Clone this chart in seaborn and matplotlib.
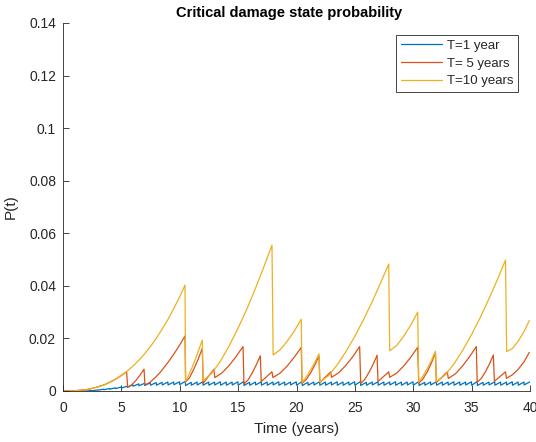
import numpy as np
import pandas as pd
import matplotlib
matplotlib.use("Agg")
import matplotlib.pyplot as plt
import seaborn as sns

# ---- data ----
yellow_t = [0, 1, 2, 2.5, 3, 3.5, 4, 4.5, 5, 5.5, 6, 6.5, 7, 7.5, 8, 8.5, 9, 9.5, 10, 10.2, 10.45,
            10.5, 10.85, 11.2, 11.55, 11.93,
            12.0, 12.74, 13.475, 14.21, 14.95, 15.69, 16.425, 17.16, 17.9,
            18.0, 18.6, 19.2, 19.81, 20.41,
            20.47, 20.84, 21.2, 21.56, 21.93,
            22.0, 22.74, 23.475, 24.21, 24.95, 25.69, 26.425, 27.16, 27.9,
            27.98, 28.6, 29.19, 29.79, 30.38,
            30.47, 30.83, 31.2, 31.55, 31.9,
            31.98, 32.74, 33.475, 34.21, 34.95, 35.69, 36.425, 37.16, 37.9,
            38.0, 38.5, 39.0, 39.5, 39.94]
yellow_p = [0, 0.0001, 0.0005, 0.0010, 0.0016, 0.0023, 0.0033, 0.0045, 0.0059, 0.0076, 0.0095,
            0.0117, 0.0142, 0.0170, 0.0201, 0.0236, 0.0273, 0.0315, 0.0359, 0.0378, 0.0403,
            0.0035, 0.0068, 0.0105, 0.0147, 0.0194,
            0.0039, 0.0067, 0.0113, 0.0170, 0.0235, 0.0306, 0.0384, 0.0467, 0.0555,
            0.0137, 0.0157, 0.0189, 0.0228, 0.0273,
            0.0032, 0.0054, 0.0080, 0.0108, 0.0141,
            0.0034, 0.0058, 0.0099, 0.0148, 0.0204, 0.0267, 0.0334, 0.0407, 0.0483,
            0.0153, 0.0174, 0.0209, 0.0251, 0.0300,
            0.0033, 0.0057, 0.0085, 0.0116, 0.0151,
            0.0036, 0.0061, 0.0102, 0.0153, 0.0211, 0.0275, 0.0345, 0.0419, 0.0498,
            0.0150, 0.0162, 0.0190, 0.0227, 0.0268]

red_t = [0, 1, 2, 2.5, 3, 3.5, 4, 4.5, 5, 5.45,
         5.54, 5.89, 6.24, 6.59, 6.94,
         7.02, 7.45, 7.88, 8.31, 8.735, 9.16, 9.59, 10.02, 10.45,
         10.5, 10.86, 11.2, 11.57, 11.93,
         12.0, 12.93,
         13.0, 13.6, 14.21, 14.81, 15.42,
         15.5, 15.85, 16.2, 16.55, 16.9,
         16.98, 17.9,
         17.98, 18.59, 19.2, 19.8, 20.41,
         20.47, 20.84, 21.2, 21.56, 21.93,
         22.0, 22.93,
         23.0, 23.6, 24.2, 24.81, 25.41,
         25.5, 25.85, 26.2, 26.55, 26.9,
         26.98, 27.9,
         27.98, 28.58, 29.18, 29.78, 30.38,
         30.47, 30.83, 31.2, 31.55, 31.9,
         31.98, 32.92,
         33.0, 33.6, 34.2, 34.8, 35.4,
         35.48, 35.83, 36.17, 36.52, 36.86,
         36.95, 37.9,
         37.98, 38.5, 39.0, 39.5, 39.94]
red_p = [0, 0.0001, 0.0005, 0.0010, 0.0016, 0.0023, 0.0033, 0.0045, 0.0059, 0.0073,
         0.0014, 0.0024, 0.0040, 0.0060, 0.0083,
         0.0023, 0.0033, 0.0050, 0.0070, 0.0094, 0.0119, 0.0147, 0.0177, 0.0209,
         0.0034, 0.0052, 0.0083, 0.0120, 0.0162,
         0.0029, 0.0083,
         0.0051, 0.0068, 0.0096, 0.0130, 0.0169,
         0.0027, 0.0042, 0.0068, 0.0099, 0.0134,
         0.0036, 0.0073,
         0.0051, 0.0068, 0.0095, 0.0128, 0.0166,
         0.0029, 0.0044, 0.0068, 0.0098, 0.0133,
         0.0032, 0.0073,
         0.0052, 0.0069, 0.0096, 0.0130, 0.0169,
         0.0029, 0.0044, 0.0070, 0.0100, 0.0136,
         0.0036, 0.0073,
         0.0052, 0.0068, 0.0095, 0.0128, 0.0166,
         0.0029, 0.0046, 0.0073, 0.0106, 0.0145,
         0.0032, 0.0073,
         0.0048, 0.0065, 0.0094, 0.0129, 0.0169,
         0.0033, 0.0048, 0.0072, 0.0102, 0.0137,
         0.0037, 0.0073,
         0.0048, 0.0062, 0.0083, 0.0112, 0.0147]

# blue sawtooth: tooth start times, low (start) and high (end) values
blue_start = [0.0, 2.0, 2.5, 3.0, 3.5, 4.0, 4.5, 5.0,
              5.5, 6.0, 6.5, 7.0, 7.5, 8.0, 8.5, 9.0, 9.5, 10.0,
              10.5, 11.0, 11.5, 12.0, 12.5, 13.0, 13.5, 14.0, 14.5, 15.0,
              15.5, 16.0, 16.5, 17.0, 17.5, 18.0, 18.5, 19.0, 19.5, 20.0,
              20.5, 21.0, 21.5, 22.0, 22.5, 23.0, 23.5, 24.0, 24.5, 25.0,
              25.5, 26.0, 26.5, 27.0, 27.5, 28.0, 28.5, 29.0, 29.5, 30.0,
              30.5, 31.0, 31.5, 32.0, 32.5, 33.0, 33.5, 34.0, 34.5, 35.0,
              35.5, 36.0, 36.5, 37.0, 37.5, 38.0, 38.5, 39.0, 39.5]
blue_low = [0.0, 0.0, 0.0001, 0.0003, 0.0005, 0.0007, 0.0009, 0.0011,
            0.0014, 0.0018, 0.0020, 0.0021, 0.0022, 0.0022, 0.0023, 0.0023, 0.0024, 0.0024,
            0.0021, 0.0022, 0.0023, 0.0022, 0.0022, 0.0023, 0.0022, 0.0022, 0.0023, 0.0022,
            0.0021, 0.0022, 0.0023, 0.0022, 0.0022, 0.0023, 0.0022, 0.0022, 0.0023, 0.0022,
            0.0021, 0.0022, 0.0023, 0.0022, 0.0022, 0.0023, 0.0022, 0.0022, 0.0023, 0.0022,
            0.0021, 0.0022, 0.0023, 0.0022, 0.0022, 0.0023, 0.0022, 0.0022, 0.0023, 0.0022,
            0.0021, 0.0022, 0.0023, 0.0022, 0.0022, 0.0023, 0.0022, 0.0022, 0.0023, 0.0022,
            0.0021, 0.0022, 0.0023, 0.0022, 0.0022, 0.0023, 0.0022, 0.0022, 0.0023]
blue_high = [0.0, 0.0002, 0.0004, 0.0007, 0.0009, 0.0012, 0.0015, 0.0018,
             0.0024, 0.0027, 0.0029, 0.0031, 0.0032, 0.0033, 0.0034, 0.0034, 0.0035, 0.0037,
             0.0033, 0.0034, 0.0035, 0.0034, 0.0034, 0.0035, 0.0034, 0.0034, 0.0035, 0.0036,
             0.0033, 0.0034, 0.0035, 0.0034, 0.0034, 0.0035, 0.0034, 0.0034, 0.0035, 0.0036,
             0.0033, 0.0034, 0.0035, 0.0034, 0.0034, 0.0035, 0.0034, 0.0034, 0.0035, 0.0036,
             0.0033, 0.0034, 0.0035, 0.0034, 0.0034, 0.0035, 0.0034, 0.0034, 0.0035, 0.0036,
             0.0033, 0.0034, 0.0035, 0.0034, 0.0034, 0.0035, 0.0034, 0.0034, 0.0035, 0.0036,
             0.0033, 0.0034, 0.0035, 0.0034, 0.0034, 0.0035, 0.0034, 0.0034, 0.0035]
blue_end = 40.0

labels = ["T=1 year", "T= 5 years", "T=10 years"]
colors = ["#0072BD", "#D95319", "#EDB120"]

# ---- build long-form table ----
bt, bp = [], []
for i, s in enumerate(blue_start):
    e = blue_start[i + 1] - 0.02 if i + 1 < len(blue_start) else blue_end
    bt += [s, e]
    bp += [blue_low[i], blue_high[i]]

rows = []
for name, ts, ps in [(labels[0], bt, bp), (labels[1], red_t, red_p), (labels[2], yellow_t, yellow_p)]:
    for k, (t, p) in enumerate(zip(ts, ps)):
        rows.append({"Time": t, "P": p, "Series": name})
df = pd.DataFrame(rows)

sns.set_style("ticks")
plt.rcParams["font.family"] = ["Liberation Sans", "DejaVu Sans"]

fig = plt.figure(figsize=(5.36, 4.42), dpi=100)
ax = fig.add_axes([63 / 536, 51 / 442, 467 / 536, 368 / 442])

sns.lineplot(data=df, x="Time", y="P", hue="Series", hue_order=labels,
             palette=colors, estimator=None, sort=False,
             linewidth=0.9, ax=ax)

ax.set_xlim(0, 40)
ax.set_ylim(0, 0.14)
ax.set_xticks([0, 5, 10, 15, 20, 25, 30, 35, 40])
ax.set_xticklabels(["0", "5", "10", "15", "20", "25", "30", "35", "40"])
ax.set_yticks([0, 0.02, 0.04, 0.06, 0.08, 0.1, 0.12, 0.14])
ax.set_yticklabels(["0", "0.02", "0.04", "0.06", "0.08", "0.1", "0.12", "0.14"])
ax.tick_params(direction="in", length=4, width=0.6, labelsize=10, colors="#262626",
               labelcolor="#262626")
ax.tick_params(axis="x", pad=7)
ax.tick_params(axis="y", pad=5)
for s in ["top", "right"]:
    ax.spines[s].set_visible(False)
for s in ["left", "bottom"]:
    ax.spines[s].set_linewidth(0.6)
    ax.spines[s].set_color("#262626")

ax.set_xlabel("Time (years)", fontsize=11, color="#262626", labelpad=5)
ax.set_ylabel("P(t)", fontsize=11, color="#262626", labelpad=8)
ax.set_title("Critical damage state probability", fontsize=10.5, fontweight="bold",
             color="black", pad=4, x=0.485)

leg = ax.legend(loc="upper right", bbox_to_anchor=(455 / 467, 356 / 368), fontsize=9.5,
                frameon=True, fancybox=False, edgecolor="#262626", framealpha=1,
                handlelength=3.1, handletextpad=0.38, borderpad=0.35, labelspacing=0.42,
                borderaxespad=0)
leg.get_frame().set_linewidth(0.6)

fig.savefig("out.png", dpi=100)
